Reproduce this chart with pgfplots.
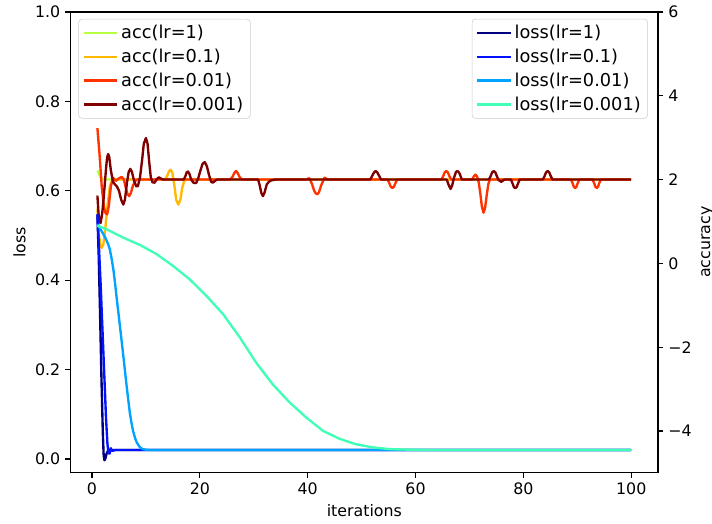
\documentclass[border=0pt]{standalone}
\usepackage{fontspec}
\setmainfont{DejaVu Sans}
\usepackage{pgfplots}
\pgfplotsset{compat=1.18}

\definecolor{jA}{RGB}{0,0,128}
\definecolor{jB}{RGB}{0,18,255}
\definecolor{jC}{RGB}{0,164,255}
\definecolor{jD}{RGB}{65,255,182}
\definecolor{jE}{RGB}{182,255,65}
\definecolor{jF}{RGB}{255,185,0}
\definecolor{jG}{RGB}{255,50,0}
\definecolor{jH}{RGB}{128,0,0}

\newcommand{\fs}{\fontsize{11.4}{13.6}\selectfont}
\newcommand{\lfs}{\fontsize{12.8}{15}\selectfont}

\pgfplotsset{
  base/.style={
    width=423.4pt, height=332pt, scale only axis,
    xmin=-3.95, xmax=104.95, ymin=-0.03, ymax=1.0,
    tick align=outside, major tick length=4pt,
    tick style={black, line width=0.9pt},
    axis line style={line width=0.9pt},
    /pgf/number format/assume math mode=true,
    tick label style={font=\fs},
    label style={font=\fs},
    legend cell align=left,
    legend image code/.code={\draw[#1] (0pt,0pt) -- (24pt,0pt);},
    every axis plot/.append style={line width=1.7pt, line join=round, mark=none},
  },
  lg/.style={legend style={draw=black!20, rounded corners=2.5pt, fill=white,
    fill opacity=0.8, draw opacity=1, text opacity=1, font=\lfs,
    row sep=1.9pt, inner xsep=3pt, inner ysep=2.5pt}},
}

\begin{document}
\begin{tikzpicture}
\begin{axis}[base, lg,
  xlabel={iterations}, ylabel={loss},
  xtick={0,20,...,100}, ytick={0,0.2,...,1.0},
  yticklabel style={/pgf/number format/fixed, /pgf/number format/fixed zerofill, /pgf/number format/precision=1},
  tick pos=left,
  legend style={at={(0.013,0.985)}, anchor=north west}]
\coordinate (bl) at (rel axis cs:0,0);
\coordinate (tr) at (rel axis cs:1,1);
% acc lr=1
\addplot[jE] coordinates {(1,0.645)(1.4,0.635)(1.8,0.627)(2.3,0.625)(100,0.625)};
\addlegendentry{acc(lr=1)}
% acc lr=0.1
\addplot[jF] coordinates {(1,0.56)(1.3,0.5)(1.6,0.475)(1.8,0.472)(2.1,0.48)(2.5,0.52)(2.9,0.57)(3.3,0.61)(3.8,0.625)
 (13.5,0.625)(13.9,0.632)(14.3,0.644)(14.6,0.647)(14.9,0.64)(15.3,0.61)(15.6,0.58)(16.0,0.569)(16.4,0.58)(16.7,0.605)(17.1,0.622)(17.5,0.625)(100,0.625)};
\addlegendentry{acc(lr=0.1)}
% acc lr=0.01
\addplot[jG] coordinates {(1,0.74)(1.4,0.68)(1.8,0.61)(2.2,0.565)(2.5,0.55)(2.8,0.547)(3.1,0.565)(3.5,0.61)(3.9,0.629)(4.4,0.622)(4.9,0.627)(5.5,0.631)(5.9,0.625)(6.3,0.605)(6.6,0.592)(6.9,0.588)(7.2,0.595)(7.6,0.612)(8.2,0.625)
 (25.6,0.625)(26.0,0.630)(26.4,0.640)(26.7,0.644)(27.0,0.640)(27.4,0.630)(27.8,0.625)
 (39.6,0.625)(40.3,0.628)(40.8,0.615)(41.2,0.6)(41.5,0.594)(41.8,0.592)(42.1,0.597)(42.5,0.612)(43.1,0.629)(43.8,0.625)
 (54.8,0.625)(55.1,0.618)(55.4,0.609)(55.7,0.606)(56.0,0.609)(56.3,0.618)(56.6,0.625)
 (64.8,0.625)(65.1,0.632)(65.4,0.641)(65.7,0.644)(66.0,0.641)(66.3,0.632)(66.6,0.625)
 (70.5,0.625)(70.8,0.632)(71.1,0.636)(71.4,0.632)(71.7,0.62)(72.0,0.595)(72.3,0.565)(72.6,0.551)(72.9,0.562)(73.2,0.59)(73.5,0.615)(73.8,0.625)
 (88.8,0.625)(89.1,0.618)(89.35,0.609)(89.6,0.606)(89.85,0.609)(90.1,0.618)(90.4,0.625)
 (92.8,0.625)(93.1,0.618)(93.35,0.609)(93.6,0.606)(93.85,0.609)(94.1,0.618)(94.4,0.625)(100,0.625)};
\addlegendentry{acc(lr=0.01)}
% acc lr=0.001
\addplot[jH] coordinates {(1,0.589)(1.2,0.55)(1.4,0.53)(1.6,0.528)(1.9,0.55)(2.2,0.59)(2.6,0.65)(2.8,0.675)(3.0,0.682)(3.2,0.675)(3.5,0.645)(3.9,0.62)(4.25,0.614)(4.6,0.61)(5.0,0.6)(5.4,0.58)(5.8,0.569)(6.1,0.58)(6.5,0.62)(6.8,0.642)(7.1,0.649)(7.4,0.642)(7.8,0.622)(8.2,0.61)(8.5,0.610)(8.9,0.63)(9.3,0.67)(9.6,0.705)(10.0,0.718)(10.3,0.705)(10.6,0.665)(10.9,0.63)(11.2,0.619)(11.6,0.618)(12.0,0.626)(12.4,0.630)(12.8,0.627)(13.2,0.625)
 (17.0,0.625)(17.3,0.632)(17.55,0.641)(17.8,0.643)(18.05,0.638)(18.4,0.625)(18.8,0.618)(19.3,0.617)(19.7,0.628)(20.1,0.645)(20.5,0.66)(20.9,0.664)(21.3,0.655)(21.7,0.635)(22.1,0.62)(22.4,0.618)(22.8,0.622)(23.2,0.625)
 (30.8,0.625)(31.1,0.612)(31.4,0.595)(31.7,0.588)(32.0,0.596)(32.4,0.614)(32.8,0.62)(33.2,0.623)(34.0,0.625)
 (51.6,0.625)(51.9,0.632)(52.3,0.641)(52.6,0.644)(52.9,0.641)(53.3,0.632)(53.6,0.625)
 (65.8,0.625)(66.1,0.614)(66.5,0.604)(66.8,0.612)(67.1,0.628)(67.5,0.642)(67.8,0.644)(68.1,0.64)(68.6,0.625)
 (73.6,0.625)(73.9,0.632)(74.2,0.641)(74.5,0.644)(74.8,0.641)(75.1,0.632)(75.4,0.624)(75.9,0.62)(76.5,0.625)
 (77.7,0.625)(78.0,0.616)(78.25,0.608)(78.5,0.606)(78.75,0.608)(79.0,0.616)(79.3,0.625)
 (83.6,0.625)(83.9,0.632)(84.2,0.641)(84.5,0.644)(84.8,0.641)(85.1,0.632)(85.4,0.625)(100,0.625)};
\addlegendentry{acc(lr=0.001)}
\end{axis}

\begin{axis}[base, lg,
  axis x line=none, axis y line*=right,
  ylabel={accuracy},
  ytick={0.0625,0.25,0.4375,0.625,0.8125,1.0},
  yticklabels={−4,−2,0,2,4,6},
  legend style={at={(0.983,0.985)}, anchor=north east}]
% loss lr=1
\addplot[jA] coordinates {(1,0.545)(1.25,0.45)(1.5,0.32)(1.75,0.18)(2.0,0.06)(2.15,0.01)(2.3,-0.003)(2.45,0.0)(2.7,0.012)(3.0,0.019)(3.5,0.02)(100,0.02)};
\addlegendentry{loss(lr=1)}
% loss lr=0.1
\addplot[jB] coordinates {(1,0.548)(1.3,0.47)(1.6,0.39)(2.0,0.27)(2.3,0.18)(2.6,0.09)(2.85,0.035)(3.05,0.013)(3.25,0.012)(3.4,0.02)(3.5,0.024)(3.6,0.02)(3.8,0.018)(4.3,0.02)(100,0.02)};
\addlegendentry{loss(lr=0.1)}
% loss lr=0.01
\addplot[jC] coordinates {(1,0.525)(1.5,0.515)(2,0.505)(2.5,0.494)(3,0.48)(3.3,0.469)(3.65,0.447)(4.0,0.42)(4.3,0.39)(4.6,0.357)(5.2,0.295)(5.8,0.231)(6.4,0.165)(7.0,0.104)(7.3,0.082)(7.6,0.063)(8.0,0.046)(8.3,0.037)(8.7,0.029)(9.0,0.025)(9.4,0.022)(9.8,0.021)(10.5,0.02)(100,0.02)};
\addlegendentry{loss(lr=0.01)}
% loss lr=0.001
\addplot[jD] coordinates {(1,0.522)(3,0.512)(5.8,0.495)(9,0.478)(12,0.458)(15,0.432)(18.1,0.402)(21.2,0.365)(24.3,0.324)(27.4,0.272)(30.4,0.216)(33.5,0.167)(36.6,0.127)(39.7,0.093)(42.8,0.063)(45.9,0.045)(48.9,0.033)(52,0.026)(55.1,0.022)(58,0.021)(62,0.02)(100,0.02)};
\addlegendentry{loss(lr=0.001)}
\end{axis}
\pgfresetboundingbox
\path ([shift={(-51pt,-36.7pt)}]bl) rectangle ([shift={(39pt,8.6pt)}]tr);
\end{tikzpicture}
\end{document}
